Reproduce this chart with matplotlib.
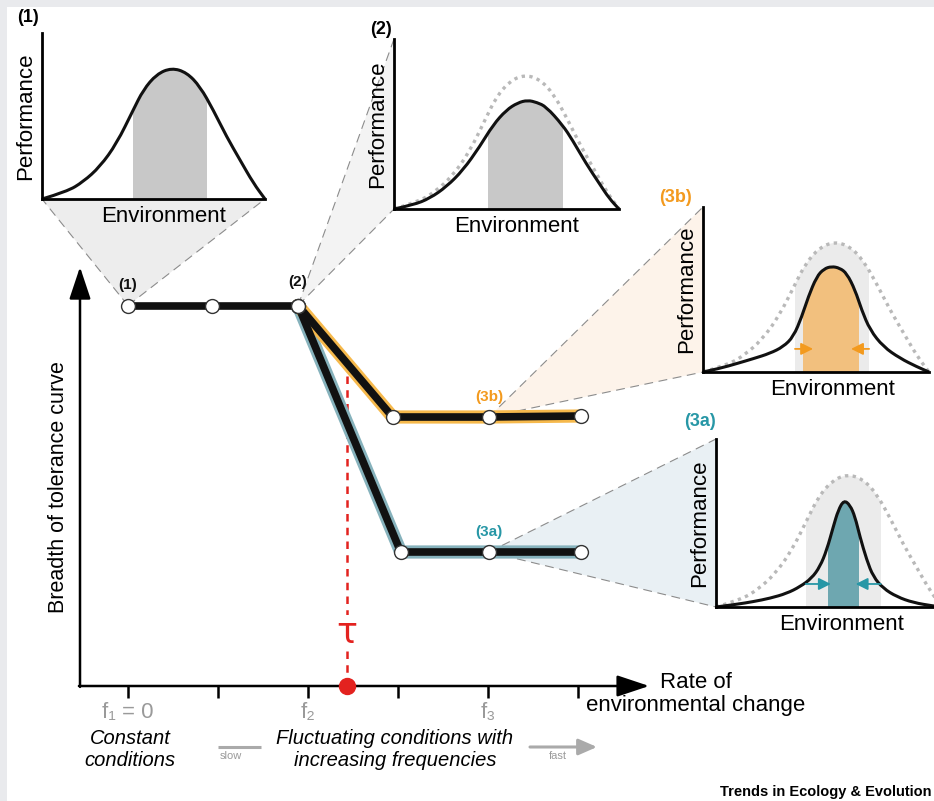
import matplotlib
matplotlib.use("Agg")
import matplotlib.pyplot as plt
from matplotlib.path import Path
from matplotlib.patches import PathPatch, Polygon, Rectangle
from matplotlib import font_manager

W, H = 934, 801

# main diagram: rate of change (in tick steps) vs breadth of tolerance curve
tick_rates = [0, 1, 2, 3, 4, 5]
tick_labels = ["f\u2081 = 0", "", "f\u2082", "", "f\u2083", ""]
const_rate = [0, 0.93, 1.89]
const_breadth = [3.805, 3.805, 3.805]
b_rate = [1.89, 2.94, 4.01, 5.03]          # branch (3b)
b_breadth = [3.805, 2.69, 2.69, 2.70]
a_rate = [1.89, 3.03, 4.01, 5.03]          # branch (3a)
a_breadth = [3.805, 1.34, 1.34, 1.34]
tau_rate = 2.43
tau_top = 3.14

# tolerance curves (environment 0-10, performance 0-1)
ref_env = [0, 1.11, 1.85, 2.60, 3.35, 4.09, 4.54, 5.14, 5.81, 6.49, 7.09, 7.68, 8.28, 8.88, 9.48, 10]
ref_perf = [0, 0.044, 0.104, 0.195, 0.335, 0.536, 0.657, 0.752, 0.79, 0.762, 0.677, 0.536, 0.375, 0.235, 0.095, 0]

c2_env = [0, 0.86, 1.59, 2.33, 3.07, 3.81, 4.40, 4.99, 5.5, 5.94, 6.35, 6.76, 7.49, 7.93, 8.53, 9.12, 9.56, 10]
c2_perf = [0, 0.024, 0.063, 0.131, 0.229, 0.367, 0.494, 0.582, 0.625, 0.64, 0.627, 0.602, 0.494, 0.406, 0.269, 0.151, 0.063, 0]

c3b_env = [0, 0.75, 1.49, 2.23, 2.96, 3.55, 4.0, 4.37, 4.66, 5.03, 5.35, 5.69, 6.05, 6.36, 6.73, 7.02, 7.39, 7.98, 8.72, 9.46, 10]
c3b_perf = [0, 0.022, 0.051, 0.081, 0.113, 0.153, 0.214, 0.335, 0.456, 0.578, 0.625, 0.64, 0.63, 0.598, 0.497, 0.376, 0.255, 0.153, 0.083, 0.032, 0]

c3a_env = [0, 0.92, 1.65, 2.39, 3.13, 3.72, 4.23, 4.60, 4.90, 5.19, 5.41, 5.66, 5.93, 6.15, 6.37, 6.67, 6.96, 7.40, 8.0, 8.73, 9.62, 10]
c3a_perf = [0, 0.016, 0.032, 0.052, 0.081, 0.121, 0.171, 0.240, 0.339, 0.478, 0.577, 0.636, 0.607, 0.538, 0.418, 0.280, 0.180, 0.111, 0.061, 0.026, 0.006, 0]

band1 = (4.08, 7.40)
band2 = (4.16, 7.52)
band3b_wide, band3b = (4.07, 7.35), (4.43, 6.90)
band3a_wide, band3a = (3.97, 7.29), (4.94, 6.34)

ORANGE = "#f39a1e"
TEAL = "#2797a6"
RED = "#e3221f"

names = {f.name for f in font_manager.fontManager.ttflist}
NARROW = "Liberation Sans Narrow" if "Liberation Sans Narrow" in names else "Liberation Sans"
plt.rcParams["font.family"] = ["Liberation Sans", "DejaVu Sans"]


def px_box(l, t, r, b):
    return [l / W, (H - b) / H, (r - l) / W, (b - t) / H]


def smooth_path(xs, ys, closed=False):
    verts = [(xs[0], ys[0])]
    codes = [Path.MOVETO]
    for i in range(1, len(xs) - 1):
        verts.append((xs[i], ys[i]))
        verts.append(((xs[i] + xs[i + 1]) / 2, (ys[i] + ys[i + 1]) / 2))
        codes += [Path.CURVE3, Path.CURVE3]
    verts.append((xs[-1], ys[-1]))
    codes.append(Path.LINETO)
    if closed:
        verts.append((xs[0], ys[0]))
        codes.append(Path.CLOSEPOLY)
    return Path(verts, codes)


fig = plt.figure(figsize=(W / 100, H / 100), dpi=100)

# background canvas (pixel units) for frame, zoom wedges and free text
bg = fig.add_axes([0, 0, 1, 1])
bg.set_xlim(0, W)
bg.set_ylim(H, 0)
bg.axis("off")
bg.add_patch(Rectangle((0, 0), W, 7, color="#e9eaed", lw=0))
bg.add_patch(Rectangle((0, 0), 7, H, color="#e9eaed", lw=0))

# main axes
ax = fig.add_axes(px_box(80, 260, 660, 686))
x0 = -0.533
ax.set_xlim(x0, 5.911)
ax.set_ylim(0, 4.26)
ax.set_facecolor("none")
for s in ax.spines.values():
    s.set_visible(False)
ax.set_yticks([])
ax.set_xticks(tick_rates, tick_labels)
ax.tick_params(axis="x", length=8.6, width=1.8, color="k", labelcolor="#9a9a9a",
               labelsize=16, pad=3)
for lab in ax.get_xticklabels():
    lab.set_family([NARROW, "DejaVu Sans"])
ax.set_ylabel("Breadth of tolerance curve", fontsize=15.5, labelpad=8)
ax.yaxis.label.set_y(0.467)

head = "-|>,head_length=0.9,head_width=0.3"
ax.annotate("", xy=(5.79, 0), xytext=(x0 - 0.012, 0),
            arrowprops=dict(arrowstyle=head, color="k", lw=1.8, mutation_scale=22,
                            shrinkA=0, shrinkB=0))
ax.annotate("", xy=(x0, 4.19), xytext=(x0, -0.009),
            arrowprops=dict(arrowstyle=head, color="k", lw=1.8, mutation_scale=22,
                            shrinkA=0, shrinkB=0))

# tau threshold
ax.plot([tau_rate, tau_rate], [0, tau_top], color=RED, lw=1.8, ls=(0, (3, 2.5)), zorder=1)
ax.text(tau_rate, 0.53, "\u03c4", color=RED, fontsize=25, ha="center", va="center",
        family="DejaVu Sans", bbox=dict(fc="white", ec="none", pad=1), zorder=2)
ax.plot([tau_rate], [0], "o", ms=11.5, color=RED, clip_on=False, zorder=5)

# branches with coloured halos
ax.plot(a_rate, a_breadth, color="#86b2bc", lw=9.5, solid_capstyle="round",
        solid_joinstyle="round", zorder=3)
ax.plot(b_rate, b_breadth, color="#f6b94c", lw=9.5, solid_capstyle="round",
        solid_joinstyle="round", zorder=3)
for xs, ys in [(const_rate, const_breadth), (b_rate, b_breadth), (a_rate, a_breadth)]:
    ax.plot(xs, ys, color="#111111", lw=5.5, solid_joinstyle="round", zorder=4)
    ax.plot(xs, ys, "o", ms=10, mfc="white", mec="#333333", mew=1.0, zorder=6)

node_labels = [("(1)", const_rate[0], const_breadth[0], "#111111", 15),
               ("(2)", const_rate[2], const_breadth[2], "#111111", 17),
               ("(3b)", b_rate[2], b_breadth[2], ORANGE, 14.5),
               ("(3a)", a_rate[2], a_breadth[2], TEAL, 14.5)]
for txt, xv, yv, col, off in node_labels:
    ax.annotate(txt, (xv, yv), xytext=(0, off), textcoords="offset points",
                ha="center", va="center", fontsize=11, fontweight="bold", color=col)


def make_inset(box, label_x):
    ins = fig.add_axes(px_box(*box))
    ins.set_xlim(0, 10)
    ins.set_ylim(0, 1)
    ins.set_facecolor("none")
    for side in ["top", "right"]:
        ins.spines[side].set_visible(False)
    for side in ["left", "bottom"]:
        ins.spines[side].set_linewidth(2)
        ins.spines[side].set_zorder(6)
    ins.set_xticks([])
    ins.set_yticks([])
    ins.set_xlabel("Environment", fontsize=16, labelpad=5)
    ins.xaxis.label.set_x(label_x)
    ins.set_ylabel("Performance", fontsize=16, labelpad=4)
    return ins


def band(ins, span, color, xs, ys, z):
    rect = ins.axvspan(span[0], span[1], color=color, lw=0, zorder=z)
    rect.set_clip_path(smooth_path(xs, ys, closed=True), ins.transData)


def curve(ins, xs, ys, dotted=False):
    if dotted:
        p = PathPatch(smooth_path(xs, ys), fill=False, ec="#b9b9b9", lw=2.4,
                      ls=(0, (1, 1.3)), zorder=3, clip_on=False)
    else:
        p = PathPatch(smooth_path(xs, ys), fill=False, ec="#111111", lw=2.2,
                      zorder=4, clip_on=False)
    ins.add_patch(p)


def squeeze_arrows(ins, wide, y, color, tips):
    for start, tip in [(wide[0], tips[0]), (wide[1], tips[1])]:
        ins.annotate("", xy=(tip, y), xytext=(start, y),
                     arrowprops=dict(arrowstyle="-|>,head_length=0.6,head_width=0.3",
                                     color=color, lw=1.3, mutation_scale=12,
                                     shrinkA=0, shrinkB=0), zorder=5)


ins1 = make_inset((42, 33, 265, 199), 0.547)
band(ins1, band1, "#c8c8c8", ref_env, ref_perf, 2)
curve(ins1, ref_env, ref_perf)

ins2 = make_inset((394, 39, 619, 209), 0.545)
band(ins2, band2, "#c8c8c8", c2_env, c2_perf, 2)
curve(ins2, ref_env, ref_perf, dotted=True)
curve(ins2, c2_env, c2_perf)

ins3b = make_inset((703, 207, 929, 372), 0.575)
band(ins3b, band3b_wide, "#ebebeb", ref_env, ref_perf, 1)
band(ins3b, band3b, "#f2c07e", c3b_env, c3b_perf, 2)
curve(ins3b, ref_env, ref_perf, dotted=True)
curve(ins3b, c3b_env, c3b_perf)
squeeze_arrows(ins3b, band3b_wide, 0.14, ORANGE, (4.87, 6.55))

ins3a = make_inset((716, 439, 942, 607), 0.556)
band(ins3a, band3a_wide, "#ebebeb", ref_env, ref_perf, 1)
band(ins3a, band3a, "#6ea7b0", c3a_env, c3a_perf, 2)
curve(ins3a, ref_env, ref_perf, dotted=True)
curve(ins3a, c3a_env, c3a_perf)
squeeze_arrows(ins3a, band3a_wide, 0.137, TEAL, (5.08, 6.18))

# zoom wedges from nodes to the insets
to_bg = bg.transData.inverted()


def wedge(node, ins, c1, c2, fill):
    n = to_bg.transform(ax.transData.transform(node))
    p1 = to_bg.transform(ins.transAxes.transform(c1))
    p2 = to_bg.transform(ins.transAxes.transform(c2))
    bg.add_patch(Polygon([n, p1, p2], closed=True, fc=fill, ec="none", zorder=1))
    for p in (p1, p2):
        bg.plot([n[0], p[0]], [n[1], p[1]], color="#8c8c8c", lw=0.8,
                ls=(0, (8, 5)), zorder=2)


wedge((const_rate[0], const_breadth[0]), ins1, (0, 0), (1, 0), "#ededed")
wedge((const_rate[2], const_breadth[2]), ins2, (0, 1), (0, 0), "#f3f3f3")
wedge((b_rate[2], b_breadth[2]), ins3b, (0, 1), (0, 0), "#fdf3ea")
wedge((a_rate[2], a_breadth[2]), ins3a, (0, 1), (0, 0), "#e9f0f4")

# panel tags
bg.text(28, 17, "(1)", fontsize=13, fontweight="bold", ha="center", va="center")
bg.text(381, 30, "(2)", fontsize=13, fontweight="bold", ha="center", va="center")
bg.text(676, 198, "(3b)", fontsize=13, fontweight="bold", color=ORANGE, ha="center", va="center")
bg.text(700, 422, "(3a)", fontsize=13, fontweight="bold", color=TEAL, ha="center", va="center")

# axis captions
bg.text(696, 694, "Rate of\nenvironmental change", fontsize=16, ha="center", va="center",
        linespacing=1.17)
ital = 17 if NARROW != "Liberation Sans" else 14.5
bg.text(130, 749, "Constant\nconditions", fontsize=ital, style="italic", family=NARROW,
        ha="center", va="center", linespacing=1.2)
bg.text(395, 749, "Fluctuating conditions with\nincreasing frequencies", fontsize=ital,
        style="italic", family=NARROW, ha="center", va="center", linespacing=1.2)

bg.plot([218, 261], [747, 747], color="#aaaaaa", lw=2.2, solid_capstyle="butt")
bg.text(231, 756, "slow", fontsize=8, color="#9a9a9a", ha="center", va="center")
bg.annotate("", xy=(597, 747), xytext=(530, 747),
            arrowprops=dict(arrowstyle="-|>,head_length=0.8,head_width=0.35",
                            color="#aaaaaa", lw=2.2, mutation_scale=14, shrinkA=0, shrinkB=0))
bg.text(558, 756, "fast", fontsize=8, color="#9a9a9a", ha="center", va="center")

bg.text(931, 792, "Trends in Ecology & Evolution", fontsize=10.5, fontweight="bold",
        family=NARROW, ha="right", va="center")

fig.savefig("out.png", dpi=100)
